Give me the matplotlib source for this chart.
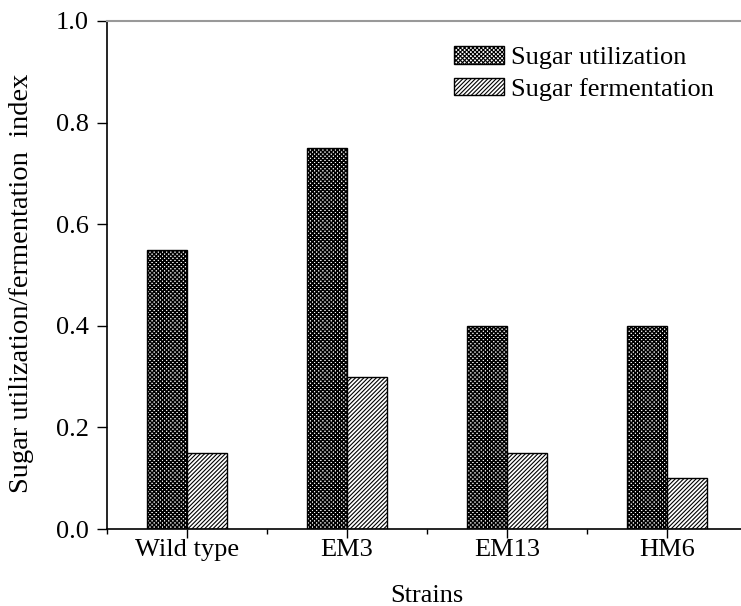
import numpy as np
import matplotlib
matplotlib.use("Agg")
import matplotlib.pyplot as plt
from matplotlib.ticker import MultipleLocator

# datos del grafico
cepas = ["Wild type", "EM3", "EM13", "HM6"]
utilizacion = [0.55, 0.75, 0.40, 0.40]
fermentacion = [0.15, 0.30, 0.15, 0.10]

plt.rcParams["font.family"] = ["Liberation Serif", "DejaVu Serif"]

fig = plt.figure(figsize=(7.41, 6.06), dpi=100)
ax = fig.add_axes([107/741, 1-529/606, 640/741, 508/606])

x = np.arange(len(cepas))
w = 0.25

plt.rcParams["hatch.linewidth"] = 1.1
ax.bar(x - w/2, utilizacion, w, facecolor="white", edgecolor="black",
       hatch="xxxxxxxx", linewidth=1, label="Sugar utilization")
plt.rcParams["hatch.linewidth"] = 0.8
ax.bar(x + w/2, fermentacion, w, facecolor="white", edgecolor="black",
       hatch="////////", linewidth=1, label="Sugar fermentation")

ax.set_xlim(-0.5, len(cepas) - 0.5)
ax.set_ylim(0, 1.0)
ax.set_xticks(x)
ax.set_xticklabels(cepas)
ax.xaxis.set_minor_locator(MultipleLocator(1, offset=0.5))
ax.yaxis.set_major_locator(MultipleLocator(0.2))
ax.yaxis.set_major_formatter(plt.FormatStrFormatter("%.1f"))

ax.tick_params(axis="y", which="major", direction="out", length=7.2, width=1,
               labelsize=19, pad=6)
ax.tick_params(axis="x", which="major", direction="out", length=6.5, width=1,
               labelsize=19, pad=1)
ax.tick_params(axis="x", which="minor", direction="out", length=3.6, width=1)

ax.spines["right"].set_visible(False)
ax.spines["top"].set_color("#999999")
ax.spines["top"].set_linewidth(1.5)
ax.spines["left"].set_linewidth(1.2)
ax.spines["bottom"].set_linewidth(1.2)

ax.set_xlabel("Strains", fontsize=19)
ax.xaxis.set_label_coords(0.5, -0.11)
ax.set_ylabel("Sugar utilization/fermentation  index", fontsize=20.5)
ax.yaxis.set_label_coords(-0.114, 0.484)

ax.legend(loc="upper left", bbox_to_anchor=(454/741, 1-46/606),
          bbox_transform=fig.transFigure, frameon=False, fontsize=19,
          handlelength=1.9, handleheight=0.65, handletextpad=0.27,
          labelspacing=0.32, borderaxespad=0, borderpad=0)

fig.savefig("out.png", dpi=100)
plt.close()
